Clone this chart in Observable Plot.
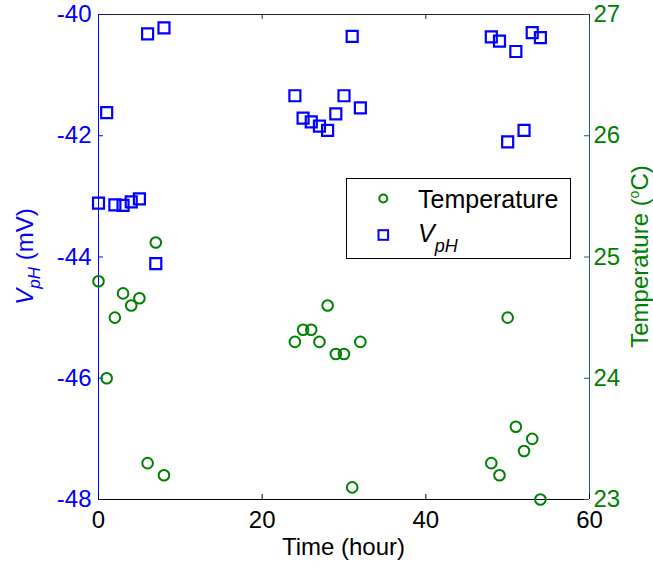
<!DOCTYPE html>
<html><head><meta charset="utf-8">
<script src="https://cdn.jsdelivr.net/npm/d3@7"></script>
<script src="https://cdn.jsdelivr.net/npm/@observablehq/plot@0.6"></script>
<style>body{margin:0;background:#fff} svg{display:block}</style>
</head><body><div id="chart"></div>
<script>
// ---- data ----
const vphTime = [0,1,2,3,4,5,6,7,8, 24,25,26,27,28,29,30,31,32, 48,49,50,51,52,53,54];
const vphValues = [-43.11,-41.62,-43.14,-43.15,-43.09,-43.04,-40.32,-44.11,-40.22,
                   -41.34,-41.71,-41.77,-41.84,-41.91,-41.64,-41.34,-40.36,-41.54,
                   -40.37,-40.44,-42.10,-40.61,-41.91,-40.30,-40.38];
const tempTime = [0,1,2,3,4,5,6,7,8, 24,25,26,27,28,29,30,31,32, 48,49,50,51,52,53,54];
const tempValues = [24.8,24.0,24.5,24.7,24.6,24.66,23.3,25.12,23.2,
                    24.3,24.4,24.4,24.3,24.6,24.2,24.2,23.1,24.3,
                    23.3,23.2,24.5,23.6,23.4,23.5,23.0];
const timeTicks = [0,20,40,60];
const vphTicks = [-48,-46,-44,-42,-40];
const tempTicks = [23,24,25,26,27];
const timeDomain = [0,60];
const vphDomain = [-48,-40];
const tempDomain = [23,27];

// ---- layout ----
const W = 653, H = 569, mL = 98, mR = 64, mT = 14, mB = 70;
const pw = W - mL - mR, ph = H - mT - mB;
const BLUE = "#0000ff", GREEN = "#008000", TEAL = "#1e5a78";
const FONT = "Arial, 'Liberation Sans', Helvetica, sans-serif";

const t2v = d3.scaleLinear(tempDomain, vphDomain);
const vphData = vphTime.map((t, i) => ({t, v: vphValues[i]}));
const tempData = tempTime.map((t, i) => ({t, v: t2v(tempValues[i])}));

const chart = Plot.plot({
  width: W, height: H,
  marginLeft: mL, marginRight: mR, marginTop: mT, marginBottom: mB,
  style: {fontFamily: FONT, fontSize: "24px", background: "#fff", overflow: "visible"},
  x: {domain: timeDomain},
  y: {domain: vphDomain},
  marks: [
    Plot.ruleY([vphDomain[1]], {stroke: "#262626"}),
    Plot.ruleY([vphDomain[0]], {stroke: "#000"}),
    Plot.ruleX([timeDomain[0]], {stroke: BLUE}),
    Plot.ruleX([timeDomain[1]], {stroke: TEAL}),
    Plot.tickX(timeTicks, {x: d => d, insetTop: ph - 5, stroke: "#000"}),
    Plot.tickX(timeTicks, {x: d => d, insetBottom: ph - 5, stroke: "#262626"}),
    Plot.tickY(vphTicks, {y: d => d, insetRight: pw - 5, stroke: BLUE}),
    Plot.tickY(tempTicks, {y: d => t2v(d), insetLeft: pw - 5, stroke: TEAL}),
    Plot.axisX(timeTicks, {tickSize: 0, tickPadding: 11, label: null, color: "#000", tickFormat: d => String(d)}),
    Plot.axisY(vphTicks, {anchor: "left", tickSize: 0, tickPadding: 7, label: null, color: BLUE, tickFormat: d => String(d)}),
    Plot.axisY(tempTicks.map(t2v), {anchor: "right", tickSize: 0, tickPadding: 4, label: null, color: GREEN,
      tickFormat: d => String(Math.round(t2v.invert(d)))}),
    Plot.dot(tempData, {x: "t", y: "v", symbol: "circle", r: 5.3, stroke: GREEN, strokeWidth: 2, fill: "none"}),
    Plot.dot(vphData, {x: "t", y: "v", symbol: "square", r: 6.2, stroke: BLUE, strokeWidth: 2.2, fill: "none"})
  ]
});

const svg = d3.select(chart);

// x label
svg.append("text").attr("x", mL + pw / 2).attr("y", 555).attr("text-anchor", "middle")
  .attr("fill", "#000").style("font-size", "24px").text("Time (hour)");

// left label
const ll = svg.append("text").attr("transform", `translate(33,${mT + ph / 2}) rotate(-90)`)
  .attr("text-anchor", "middle").attr("fill", BLUE).style("font-size", "24px");
ll.append("tspan").style("font-style", "italic").text("V");
ll.append("tspan").style("font-style", "italic").style("font-size", "17px").attr("dy", 7).text("pH");
ll.append("tspan").attr("dy", -7).text(" (mV)");

// right label
const rl = svg.append("text").attr("transform", `translate(648,${mT + ph / 2}) rotate(-90)`)
  .attr("text-anchor", "middle").attr("fill", GREEN).style("font-size", "24px");
rl.append("tspan").text("Temperature (");
rl.append("tspan").style("font-size", "14px").attr("dy", -9).text("o");
rl.append("tspan").attr("dy", 9).text("C)");

// legend
const lg = svg.append("g").attr("text-anchor", "start");
lg.append("rect").attr("x", 346.5).attr("y", 178.5).attr("width", 224).attr("height", 80)
  .attr("fill", "#fff").attr("stroke", "#000").attr("stroke-width", 1);
lg.append("circle").attr("cx", 383.3).attr("cy", 198.5).attr("r", 4)
  .attr("fill", "none").attr("stroke", GREEN).attr("stroke-width", 2);
lg.append("rect").attr("x", 383.3 - 4.8).attr("y", 235 - 4.8).attr("width", 9.6).attr("height", 9.6)
  .attr("fill", "none").attr("stroke", BLUE).attr("stroke-width", 2);
lg.append("text").attr("x", 418).attr("y", 208).attr("text-anchor", "start").attr("fill", "#000")
  .style("font-size", "25px").text("Temperature");
const lv = lg.append("text").attr("x", 418).attr("y", 242).attr("text-anchor", "start").attr("fill", "#000")
  .style("font-size", "25px");
lv.append("tspan").style("font-style", "italic").text("V");
lv.append("tspan").style("font-style", "italic").style("font-size", "18px").attr("dy", 10).text("pH");

document.getElementById("chart").appendChild(chart);
</script>
</body></html>
